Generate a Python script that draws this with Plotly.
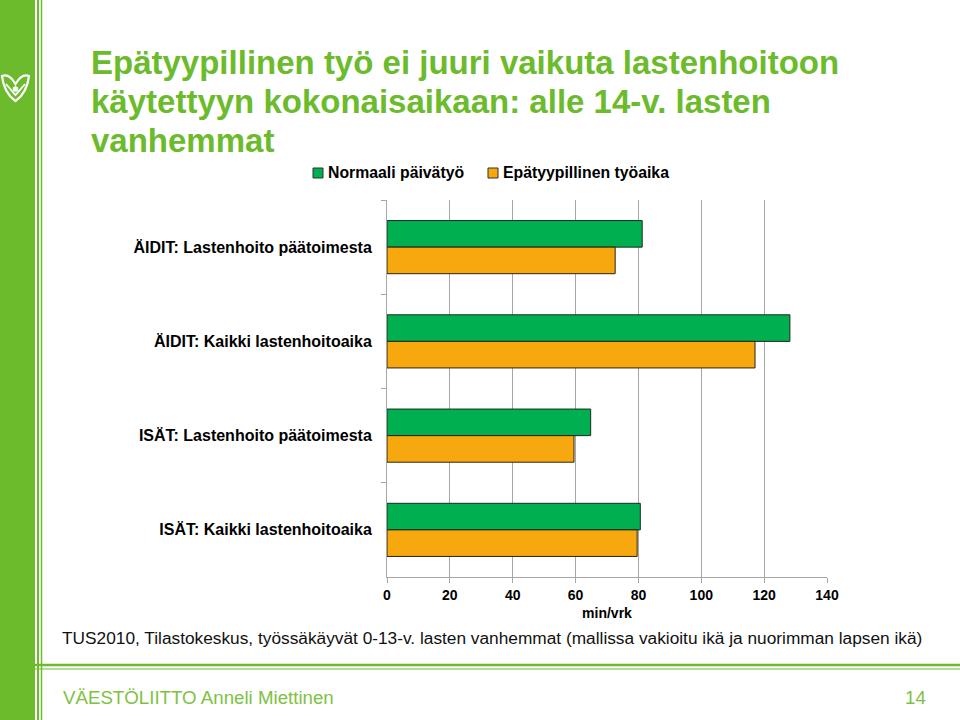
import plotly.graph_objects as go

# ---------------- data ----------------
categories = [
    "ÄIDIT: Lastenhoito päätoimesta",
    "ÄIDIT: Kaikki lastenhoitoaika",
    "ISÄT: Lastenhoito päätoimesta",
    "ISÄT: Kaikki lastenhoitoaika",
]
series_names = ["Normaali päivätyö", "Epätyypillinen työaika"]
normaali = [81.2, 128.2, 64.8, 80.6]
epatyypillinen = [72.6, 117.1, 59.5, 79.6]
x_tick_values = [0, 20, 40, 60, 80, 100, 120, 140]
x_axis_title = "min/vrk"
title_lines = [
    "Epätyypillinen työ ei juuri vaikuta lastenhoitoon",
    "käytettyyn kokonaisaikaan: alle 14-v. lasten",
    "vanhemmat",
]
footnote = ("TUS2010, Tilastokeskus, työssäkäyvät 0-13-v. lasten vanhemmat "
            "(mallissa vakioitu ikä ja nuorimman lapsen ikä)")
footer_left = "VÄESTÖLIITTO Anneli Miettinen"
footer_right = "14"

# ---------------- styling ----------------
FONT = "Liberation Sans, Arial, sans-serif"
GREEN_BAR = "#00AF50"
ORANGE_BAR = "#F7A80E"
BAR_COLORS = [GREEN_BAR, ORANGE_BAR]
BRAND = "#6CBB2C"
FOOT_GREEN = "#7DC242"
GRID = "#A6A6A6"

# plot area in pixels
L, R, T, B = 387, 827, 200, 577
W, H = R - L, B - T


def xp(x):
    return (x - L) / W


def yp(y):
    return (B - y) / H


fig = go.Figure()
fig.add_trace(go.Bar(
    y=categories, x=normaali, name=series_names[0], orientation="h",
    marker=dict(color=GREEN_BAR, line=dict(color="#1E2A1E", width=1)),
))
fig.add_trace(go.Bar(
    y=categories, x=epatyypillinen, name=series_names[1], orientation="h",
    marker=dict(color=ORANGE_BAR, line=dict(color="#2A2410", width=1)),
))

shapes = []
# left brand stripe
shapes.append(dict(type="rect", xref="paper", yref="paper", layer="below",
                   x0=xp(0), x1=xp(35), y0=yp(0), y1=yp(720),
                   fillcolor=BRAND, line=dict(width=0)))
shapes.append(dict(type="line", xref="paper", yref="paper", layer="below",
                   x0=xp(38), x1=xp(38), y0=yp(0), y1=yp(720),
                   line=dict(color=BRAND, width=2)))
shapes.append(dict(type="line", xref="paper", yref="paper", layer="below",
                   x0=xp(41.5), x1=xp(41.5), y0=yp(0), y1=yp(720),
                   line=dict(color=BRAND, width=1.5)))
# bottom double rule
shapes.append(dict(type="line", xref="paper", yref="paper", layer="below",
                   x0=xp(33), x1=xp(960), y0=yp(665), y1=yp(665),
                   line=dict(color=BRAND, width=2.5)))
shapes.append(dict(type="line", xref="paper", yref="paper", layer="below",
                   x0=xp(33), x1=xp(960), y0=yp(669), y1=yp(669),
                   line=dict(color=BRAND, width=1.2)))


def path(points_cmds):
    out = []
    for item in points_cmds:
        if isinstance(item, str):
            out.append(item)
        else:
            out.append(f"{xp(item[0]):.5f},{yp(item[1]):.5f}")
    return " ".join(out)


# logo (white outline)
logo_outer = path(["M", (2, 76), "Q", (9, 73), (15.5, 84), "Q", (22, 73), (29, 76),
                   "Q", (27, 93), (15.5, 101), "Q", (4, 93), (2, 76), "Z"])
shapes.append(dict(type="path", xref="paper", yref="paper", path=logo_outer,
                   line=dict(color="white", width=2.2), fillcolor="rgba(0,0,0,0)"))
logo_inner = path(["M", (6, 84), "L", (15.5, 95), "L", (25, 84)])
shapes.append(dict(type="path", xref="paper", yref="paper", path=logo_inner,
                   line=dict(color="white", width=1.8)))
shapes.append(dict(type="circle", xref="paper", yref="paper",
                   x0=xp(13.5), x1=xp(17.5), y0=yp(87), y1=yp(91),
                   line=dict(color="white", width=1.5), fillcolor="white"))

annotations = []
for i, line in enumerate(title_lines):
    annotations.append(dict(
        text=line, xref="paper", yref="paper", x=xp(89), y=yp(62 + 39 * i),
        xanchor="left", yanchor="middle", showarrow=False,
        font=dict(family=FONT, size=33, color=BRAND, weight=700)))

# legend (drawn as keys + labels)
legend_keys_x = [313, 488]
for name, color, kx in zip(series_names, BAR_COLORS, legend_keys_x):
    shapes.append(dict(type="rect", xref="paper", yref="paper",
                       x0=xp(kx), x1=xp(kx + 10), y0=yp(168), y1=yp(178),
                       fillcolor=color, line=dict(color="#333333", width=1)))
    annotations.append(dict(
        text=name, xref="paper", yref="paper", x=xp(kx + 13), y=yp(173),
        xanchor="left", yanchor="middle", showarrow=False,
        font=dict(family=FONT, size=15.8, color="#000000", weight=700)))

annotations.append(dict(
    text=footnote, xref="paper", yref="paper", x=xp(60), y=yp(638),
    xanchor="left", yanchor="middle", showarrow=False,
    font=dict(family=FONT, size=17.3, color="#111111")))
annotations.append(dict(
    text=footer_left, xref="paper", yref="paper", x=xp(61), y=yp(697),
    xanchor="left", yanchor="middle", showarrow=False,
    font=dict(family=FONT, size=18.7, color=FOOT_GREEN)))
annotations.append(dict(
    text=footer_right, xref="paper", yref="paper", x=xp(928), y=yp(697),
    xanchor="right", yanchor="middle", showarrow=False,
    font=dict(family=FONT, size=18.7, color=FOOT_GREEN)))

fig.update_layout(
    width=960, height=720, autosize=False,
    margin=dict(l=L, r=960 - R, t=T, b=720 - B, pad=0),
    paper_bgcolor="white", plot_bgcolor="white",
    barmode="group", bargap=0.436, bargroupgap=0,
    font=dict(family=FONT, color="#000000"),
    showlegend=False,
    xaxis=dict(range=[0, 140], tickvals=x_tick_values, showgrid=True, gridcolor=GRID,
               gridwidth=1, zeroline=False, showline=True, linecolor=GRID, linewidth=1,
               ticks="outside", ticklen=5, tickcolor=GRID,
               tickfont=dict(family=FONT, size=14, color="#000000", weight=700),
               title=dict(text=x_axis_title, standoff=6,
                          font=dict(family=FONT, size=14, color="#000000", weight=700)),
               fixedrange=True),
    yaxis=dict(categoryorder="array", categoryarray=categories, autorange="reversed",
               showgrid=False, showline=True, linecolor=GRID, linewidth=1,
               ticks="outside", ticklen=5, tickcolor=GRID, tickson="boundaries",
               ticklabelstandoff=11,
               tickfont=dict(family=FONT, size=16, color="#000000", weight=700),
               fixedrange=True),
    shapes=shapes,
    annotations=annotations,
)

fig.write_html("out.html", include_plotlyjs=True, full_html=True,
               config={"displayModeBar": False},
               post_script="document.body.style.margin='0';document.body.style.overflow='hidden';")
